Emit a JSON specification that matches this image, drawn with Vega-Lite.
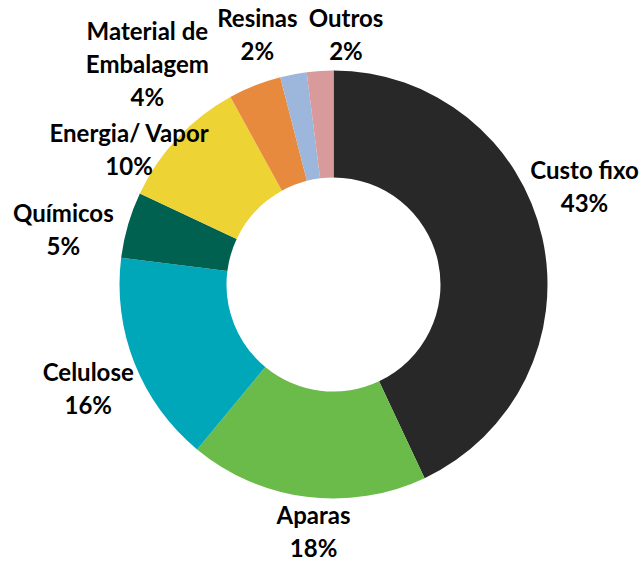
{
  "$schema": "https://vega.github.io/schema/vega-lite/v6.json",
  "autosize": "none",
  "width": 619,
  "height": 553,
  "padding": {"left": 24, "top": 8, "right": 0, "bottom": 0},
  "background": "white",
  "view": {"stroke": null},
  "data": {
    "values": [
      {"categoria": "Custo fixo", "valor": 43, "ordem": 1, "rotulo": "Custo fixo\n43%"},
      {"categoria": "Aparas", "valor": 18, "ordem": 2, "rotulo": "Aparas\n18%"},
      {"categoria": "Celulose", "valor": 16, "ordem": 3, "rotulo": "Celulose\n16%"},
      {"categoria": "Químicos", "valor": 5, "ordem": 4, "rotulo": "Químicos\n5%"},
      {"categoria": "Energia/ Vapor", "valor": 10, "ordem": 5, "rotulo": "Energia/ Vapor\n10%"},
      {"categoria": "Material de Embalagem", "valor": 4, "ordem": 6, "rotulo": "Material de\nEmbalagem\n4%"},
      {"categoria": "Resinas", "valor": 2, "ordem": 7, "rotulo": "Resinas\n2%"},
      {"categoria": "Outros", "valor": 2, "ordem": 8, "rotulo": "Outros\n2%"}
    ]
  },
  "encoding": {
    "theta": {"field": "valor", "type": "quantitative", "stack": true},
    "order": {"field": "ordem", "type": "quantitative"}
  },
  "layer": [
    {
      "mark": {"type": "arc", "innerRadius": 107, "outerRadius": 214},
      "encoding": {
        "color": {
          "field": "categoria",
          "type": "nominal",
          "scale": {
            "domain": ["Custo fixo", "Aparas", "Celulose", "Químicos", "Energia/ Vapor", "Material de Embalagem", "Resinas", "Outros"],
            "range": ["#282828", "#6abb4a", "#00a7b8", "#006150", "#edd334", "#e78a3e", "#9db6dc", "#d99a9b"]
          },
          "legend": null
        }
      }
    },
    {
      "mark": {"type": "text", "radius": 275, "thetaOffset": -0.201, "font": "Lato", "fontWeight": "bold", "fontSize": 24, "lineBreak": "\n", "lineHeight": 33, "align": "center", "baseline": "middle", "color": "#000000"},
      "encoding": {"text": {"condition": {"test": "datum.categoria === 'Custo fixo'", "field": "rotulo"}, "value": ""}}
    },
    {
      "mark": {"type": "text", "radius": 233, "thetaOffset": -0.04, "font": "Lato", "fontWeight": "bold", "fontSize": 24, "lineBreak": "\n", "lineHeight": 33, "align": "center", "baseline": "middle", "color": "#000000"},
      "encoding": {"text": {"condition": {"test": "datum.categoria === 'Aparas'", "field": "rotulo"}, "value": ""}}
    },
    {
      "mark": {"type": "text", "radius": 261, "thetaOffset": 0.028, "font": "Lato", "fontWeight": "bold", "fontSize": 24, "lineBreak": "\n", "lineHeight": 33, "align": "center", "baseline": "middle", "color": "#000000"},
      "encoding": {"text": {"condition": {"test": "datum.categoria === 'Celulose'", "field": "rotulo"}, "value": ""}}
    },
    {
      "mark": {"type": "text", "radius": 279, "thetaOffset": -0.031, "font": "Lato", "fontWeight": "bold", "fontSize": 24, "lineBreak": "\n", "lineHeight": 33, "align": "center", "baseline": "middle", "color": "#000000"},
      "encoding": {"text": {"condition": {"test": "datum.categoria === 'Químicos'", "field": "rotulo"}, "value": ""}}
    },
    {
      "mark": {"type": "text", "radius": 253, "thetaOffset": -0.124, "font": "Lato", "fontWeight": "bold", "fontSize": 24, "lineBreak": "\n", "lineHeight": 33, "align": "center", "baseline": "middle", "color": "#000000"},
      "encoding": {"text": {"condition": {"test": "datum.categoria === 'Energia/ Vapor'", "field": "rotulo"}, "value": ""}}
    },
    {
      "mark": {"type": "text", "radius": 313, "thetaOffset": -0.26, "font": "Lato", "fontWeight": "bold", "fontSize": 24, "lineBreak": "\n", "lineHeight": 33, "align": "center", "baseline": "middle", "color": "#000000"},
      "encoding": {"text": {"condition": {"test": "datum.categoria === 'Material de Embalagem'", "field": "rotulo"}, "value": ""}}
    },
    {
      "mark": {"type": "text", "radius": 275, "thetaOffset": -0.092, "font": "Lato", "fontWeight": "bold", "fontSize": 24, "lineBreak": "\n", "lineHeight": 33, "align": "center", "baseline": "middle", "color": "#000000"},
      "encoding": {"text": {"condition": {"test": "datum.categoria === 'Resinas'", "field": "rotulo"}, "value": ""}}
    },
    {
      "mark": {"type": "text", "radius": 265, "thetaOffset": 0.11, "font": "Lato", "fontWeight": "bold", "fontSize": 24, "lineBreak": "\n", "lineHeight": 33, "align": "center", "baseline": "middle", "color": "#000000"},
      "encoding": {"text": {"condition": {"test": "datum.categoria === 'Outros'", "field": "rotulo"}, "value": ""}}
    }
  ]
}
